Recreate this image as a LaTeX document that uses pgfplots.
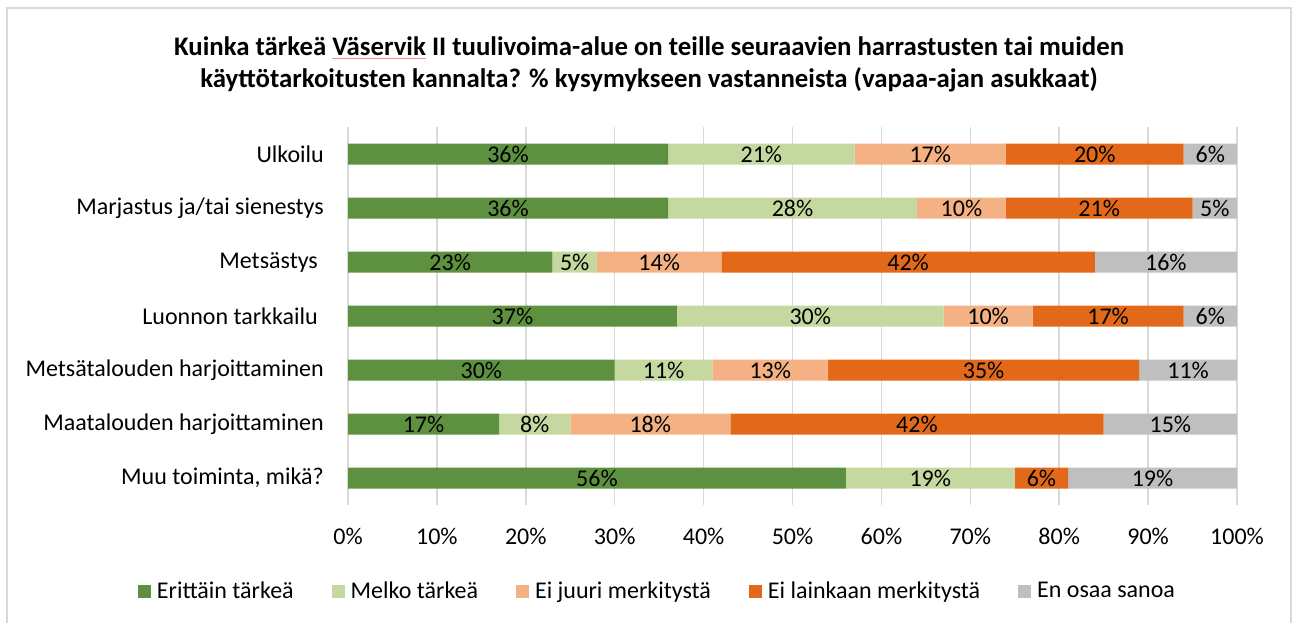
\documentclass[border=0pt]{standalone}
\usepackage{pgfplots}
\pgfplotsset{compat=1.18}
\usepackage{fontspec}
\setmainfont{Carlito}
\definecolor{c1}{HTML}{5E913F}
\definecolor{c2}{HTML}{C5D8A0}
\definecolor{c3}{HTML}{F4B183}
\definecolor{c4}{HTML}{E3691A}
\definecolor{c5}{HTML}{BFBFBF}
\definecolor{gridc}{HTML}{D9D9D9}
\pgfplotstableread{
y e1 e2 e3 e4 e5
0 36 21 17 20 6
1 36 28 10 21 5
2 23 5 14 42 16
3 37 30 10 17 6
4 30 11 13 35 11
5 17 8 18 42 15
6 56 19 0 6 19
}\data
\begin{document}
\begin{tikzpicture}
\path[use as bounding box] (0pt,0pt) rectangle (1293pt,-623pt);
\draw[color=gridc, line width=1.3pt] (7pt,-640pt) -- (7pt,-8pt) -- (1291pt,-8pt) -- (1291pt,-640pt);
\node[font=\fontsize{26.8}{32}\selectfont\bfseries, align=center] at (649pt,-64pt)
 {Kuinka tärkeä \sbox0{Väservik}\rlap{\color[HTML]{F09090}\rule[-3.5pt]{\wd0}{0.8pt}}\usebox0{} II tuulivoima-alue on teille seuraavien harrastusten tai muiden\\ käyttötarkoitusten kannalta? \% kysymykseen vastanneista (vapaa-ajan asukkaat)};
\begin{axis}[at={(348pt,-505pt)}, anchor=south west, width=889pt, height=378pt, scale only axis,
  xbar stacked, bar width=21pt, xmin=0, xmax=100, ymin=-0.5, ymax=6.5, y dir=reverse,
  ytick={0,...,6},
  yticklabels={Ulkoilu, Marjastus ja/tai sienestys, Metsästys\hspace*{6pt}, Luonnon tarkkailu\hspace*{6pt}, Metsätalouden harjoittaminen, Maatalouden harjoittaminen, {Muu toiminta, mikä?}},
  xtick={0,10,...,100}, xticklabel={\pgfmathprintnumber{\tick}\%},
  xmajorgrids, grid style={color=gridc, line width=1.5pt},
  axis line style={draw=none}, major tick length=0pt,
  tick label style={font=\fontsize{24}{28}\selectfont},
  /pgf/number format/assume math mode=true,
  yticklabel style={inner sep=0pt, xshift=-24pt},
  xticklabel style={inner sep=0pt, anchor=north, yshift=-23pt},
  legend style={at={(0.347,-0.2275)}, anchor=center, draw=none, legend columns=5,
    font=\fontsize{24}{28}\selectfont,
    /tikz/every odd column/.append style={column sep=6pt},
    /tikz/every even column/.append style={column sep=38pt},
    nodes={inner xsep=0pt, inner ysep=0pt}},
  legend cell align=left,
  legend image code/.code={\fill[#1] (0pt,-6.5pt) rectangle (13pt,6.5pt);},
]
\addplot[fill=c1, draw=none] table[x=e1, y=y] {\data};
\addplot[fill=c2, draw=none] table[x=e2, y=y] {\data};
\addplot[fill=c3, draw=none] table[x=e3, y=y] {\data};
\addplot[fill=c4, draw=none] table[x=e4, y=y] {\data};
\addplot[fill=c5, draw=none] table[x=e5, y=y] {\data};
\legend{Erittäin tärkeä, Melko tärkeä, Ei juuri merkitystä, Ei lainkaan merkitystä, En osaa sanoa}
\end{axis}
\begin{axis}[at={(348pt,-505pt)}, anchor=south west, width=889pt, height=378pt, scale only axis,
  xmin=0, xmax=100, ymin=-0.5, ymax=6.5, y dir=reverse, hide axis]
\addplot[draw=none, mark=none, nodes near coords,
  point meta=explicit symbolic,
  every node near coord/.style={anchor=center, inner sep=0pt, font=\fontsize{24}{28}\selectfont}]
  table[x=x, y=y, meta=l] {
x y l
18 0 36\%
46.5 0 21\%
65.5 0 17\%
84 0 20\%
97 0 6\%
18 1 36\%
50 1 28\%
69 1 10\%
84.5 1 21\%
97.5 1 5\%
11.5 2 23\%
25.5 2 5\%
35 2 14\%
63 2 42\%
92 2 16\%
18.5 3 37\%
52 3 30\%
72 3 10\%
85.5 3 17\%
97 3 6\%
15 4 30\%
35.5 4 11\%
47.5 4 13\%
71.5 4 35\%
94.5 4 11\%
8.5 5 17\%
21 5 8\%
34 5 18\%
64 5 42\%
92.5 5 15\%
28 6 56\%
65.5 6 19\%
78 6 6\%
90.5 6 19\%
};
\end{axis}
\end{tikzpicture}
\end{document}
